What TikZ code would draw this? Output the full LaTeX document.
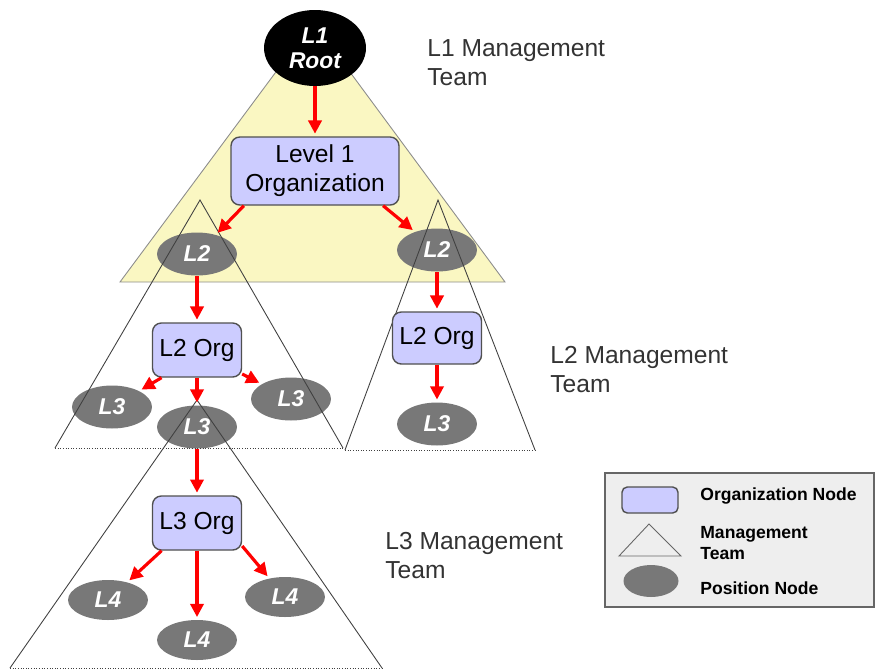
\documentclass[tikz,border=0pt]{standalone}
\usepackage{fontspec}
\setmainfont{Liberation Sans}
\usepackage{tikz}
\usetikzlibrary{
  arrows.meta,
  shapes.geometric,
}
\definecolor{teamyellow}{HTML}{FAF7C2}
\definecolor{orgblue}{HTML}{CCCCFF}
\definecolor{orgedge}{HTML}{505050}
\definecolor{posgray}{HTML}{787878}
\definecolor{linkred}{HTML}{FF0000}
\definecolor{labelgray}{HTML}{333333}
\definecolor{legendbg}{HTML}{EEEEEE}

\begin{document}
\begin{tikzpicture}[x=0.02cm, y=-0.02cm,
  link/.style={draw=linkred, line width=1.8pt, -{Triangle[length=7.5pt,width=7.5pt]}, shorten >=1.5pt},
  orgbox/.style={draw=orgedge, fill=orgblue, rounded corners=5pt, line width=0.8pt,
    minimum width=1.78cm, minimum height=1.08cm, inner sep=1pt, font=\fontsize{14}{16.6}\selectfont},
  posnode/.style={ellipse, fill=posgray, text=white, minimum width=1.6cm, minimum height=0.86cm,
    inner sep=0pt, font=\fontsize{13}{14}\selectfont\bfseries\itshape},
  teamlabel/.style={anchor=north west, inner sep=0pt, align=left, text=labelgray,
    font=\fontsize{14}{16.6}\selectfont},
  teamside/.style={draw=black!75, line width=0.5pt},
  teambase/.style={teamside, densely dotted},
  legtext/.style={anchor=west, inner sep=0pt, align=left, font=\fontsize{10}{11.5}\selectfont\bfseries},
]
  \useasboundingbox (0,0) rectangle (875,670);

  % L1 management team
  \draw[fill=teamyellow, draw=black!45, line width=0.5pt] (313,22) -- (505,282) -- (120,282) -- cycle;

  % position nodes
  \node[posnode, fill=black, minimum width=2.04cm, minimum height=1.52cm, align=center,
    font=\fontsize{13}{14}\selectfont\bfseries\itshape] (root) at (315,48) {L1\\Root};
  \node[posnode] (l2a) at (197,254) {L2};
  \node[posnode] (l2b) at (437,250) {L2};
  \node[posnode] (l3a) at (112,407) {L3};
  \node[posnode] (l3b) at (197,427) {L3};
  \node[posnode] (l3c) at (291,399) {L3};
  \node[posnode] (l3d) at (437,424) {L3};
  \node[posnode, minimum height=0.8cm] (l4a) at (108,600) {L4};
  \node[posnode, minimum height=0.8cm] (l4b) at (197,640) {L4};
  \node[posnode, minimum height=0.8cm] (l4c) at (285,597) {L4};

  % L2 and L3 management teams
  \draw[teamside] (55,448) -- (200,200) -- (343,448);
  \draw[teambase] (55,448) -- (343,448);
  \draw[teamside] (345,450) -- (438,200) -- (535,450);
  \draw[teambase] (345,450) -- (535,450);
  \draw[teamside] (10,668) -- (197,400) -- (382,668);
  \draw[teambase] (10,668) -- (382,668);

  % organization nodes
  \node[orgbox, minimum width=3.36cm, minimum height=1.36cm, align=center] (org1) at (315,171) {Level 1\\Organization};
  \node[orgbox] (org2a) at (197,350) {L2 Org};
  \node[orgbox, minimum height=1.04cm] (org2b) at (437,338) {L2 Org};
  \node[orgbox] (org3) at (197,523) {L3 Org};

  \draw[link] (root) -- (org1);
  \draw[link] (org1.206) -- (l2a);
  \draw[link] (org1.333) -- (l2b);
  \draw[link] (l2a) -- (org2a);
  \draw[link] (l2b) -- (org2b);
  \draw[link] (org2a.218) -- (l3a);
  \draw[link] (org2a) -- (l3b);
  \draw[link] (org2a.332) -- (l3c);
  \draw[link] (org2b) -- (l3d);
  \draw[link] (l3b) -- (org3);
  \draw[link] (org3.218) -- (l4a);
  \draw[link] (org3) -- (l4b);
  \draw[link] (org3.333) -- (l4c);

  \node[teamlabel] (t1) at (427,39) {L1 Management\\Team};
  \node[teamlabel] (t2) at (550,346) {L2 Management\\Team};
  \node[teamlabel] (t3) at (385,532) {L3 Management\\Team};

  % legend
  \node[draw=black!60, fill=legendbg, line width=0.8pt, minimum width=5.38cm, minimum height=2.68cm,
    inner sep=0pt] (legend) at (739.5,540) {};
  \node[orgbox, minimum width=1.12cm, minimum height=0.52cm, rounded corners=3pt] (legorg) at (650,500) {};
  \draw[teamside, draw=black!60] (649,524) -- (681,556) -- (619,556) -- cycle;
  \node[posnode, minimum width=1.1cm, minimum height=0.64cm] (legpos) at (651,581) {};
  \node[legtext] (legorgtext) at (700,496) {Organization Node};
  \node[legtext] (legteamtext) at (700,543) {Management\\Team};
  \node[legtext] (legpostext) at (700,588) {Position Node};
\end{tikzpicture}
\end{document}
